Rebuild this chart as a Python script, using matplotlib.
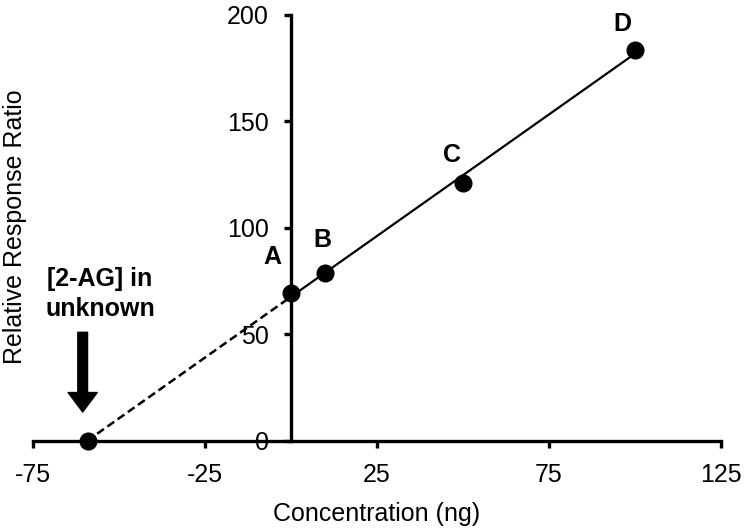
"""
Standard addition plot: relative response ratio vs spiked concentration.
"""

import numpy as np
import matplotlib
matplotlib.use("Agg")
import matplotlib.pyplot as plt

plt.rcParams["font.family"] = ["Liberation Sans", "DejaVu Sans"]

# data
conc      = [0, 10, 50, 100]
response  = [69.5, 78.9, 121.0, 183.5]
labels    = ["A", "B", "C", "D"]
label_pos = [(-5.2, 86.4), (9.3, 94.4), (46.8, 134.0), (96.5, 195.8)]
unknown_x = -59.0

xticks = [-75, -25, 25, 75, 125]
yticks = [0, 50, 100, 150, 200]


def main():
    fig = plt.figure(figsize=(7.46, 5.30), dpi=100)
    ax = fig.add_axes([0.044, 0.168, 0.922, 0.804])

    slope, icpt = np.polyfit(conc, response, 1)
    x0 = -icpt / slope

    # fitted line through the standards, dashed extrapolation to y = 0
    ax.plot([0, 100], [icpt, icpt + slope * 100], color="black", lw=1.6, zorder=3)
    ax.plot([x0, 0], [0, icpt], color="black", lw=1.8, dashes=(3.3, 1.7), zorder=3)

    ax.plot(conc, response, "o", color="black", ms=12, zorder=4, clip_on=False)
    ax.plot([unknown_x], [0], "o", color="black", ms=12, zorder=4, clip_on=False)

    for lab, (lx, ly) in zip(labels, label_pos):
        ax.text(lx, ly, lab, fontsize=18, fontweight="bold", ha="center", va="center")

    ax.text(-55.5, 69, "[2-AG] in\nunknown", fontsize=18, fontweight="bold",
            ha="center", va="center", linespacing=1.3)
    ax.annotate("", xy=(unknown_x - 1.5, 13.6), xytext=(unknown_x - 1.5, 51),
                arrowprops=dict(facecolor="black", edgecolor="black", width=7,
                                headwidth=21, headlength=14, shrink=0))

    ax.set_xlim(-75, 125)
    ax.set_ylim(0, 200)
    ax.spines["left"].set_position(("data", 0))
    ax.spines["bottom"].set_position(("data", 0))
    ax.spines["top"].set_visible(False)
    ax.spines["right"].set_visible(False)
    for s in ("left", "bottom"):
        ax.spines[s].set_linewidth(2.4)

    ax.set_xticks(xticks)
    ax.set_xticklabels([str(t) for t in xticks])
    ax.set_yticks(yticks)
    ax.set_yticklabels([str(t) for t in yticks])
    ax.tick_params(axis="both", direction="out", length=5, width=2.4,
                   labelsize=18)
    ax.tick_params(axis="y", pad=11)
    ax.tick_params(axis="x", pad=11)
    ax.patch.set_visible(False)

    fig.text(15 / 746, 1 - 227 / 530, "Relative Response Ratio", fontsize=18,
             rotation=90, ha="center", va="center")
    fig.text(377 / 746, 1 - 514 / 530, "Concentration (ng)", fontsize=18,
             ha="center", va="center")

    fig.savefig("out.png", dpi=100)


if __name__ == "__main__":
    main()
